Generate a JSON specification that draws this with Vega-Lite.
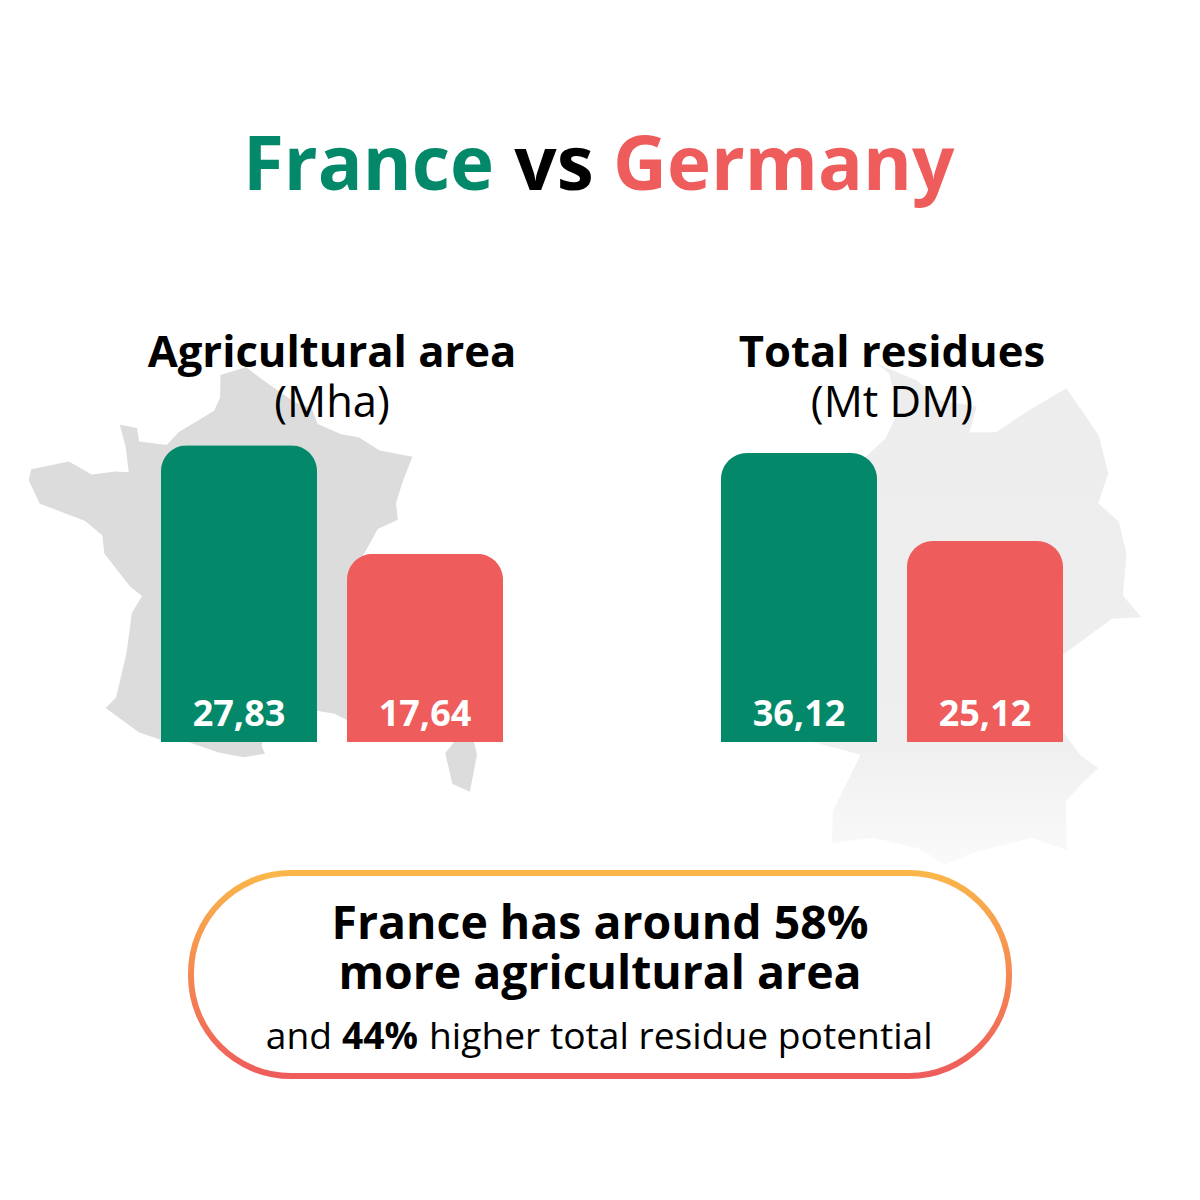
{
  "$schema": "https://vega.github.io/schema/vega-lite/v6.json",
  "width": 1200,
  "height": 1200,
  "autosize": {"type": "fit", "contains": "padding"},
  "padding": 0,
  "background": "#ffffff",
  "config": {"view": {"stroke": null}, "text": {"font": "Open Sans"}},
  "datasets": {
    "bars": [
      {"metric": "Agricultural area", "country": "France", "value": 27.83, "label": "27,83"},
      {"metric": "Agricultural area", "country": "Germany", "value": 17.64, "label": "17,64"},
      {"metric": "Total residues", "country": "France", "value": 36.12, "label": "36,12"},
      {"metric": "Total residues", "country": "Germany", "value": 25.12, "label": "25,12"}
    ],
    "headings": [
      {"metric": "Agricultural area", "line": "name", "text": "Agricultural area"},
      {"metric": "Agricultural area", "line": "unit", "text": "(Mha)"},
      {"metric": "Total residues", "line": "name", "text": "Total residues"},
      {"metric": "Total residues", "line": "unit", "text": "(Mt DM)"}
    ]
  },
  "layer": [
    {
      "data": {"values": [{"type": "Feature", "properties": {"name": "France"}, "geometry": {"type": "MultiPolygon", "coordinates": [
        [[[2.5,51.08],[3.2,50.75],[4.2,50.3],[4.8,50.15],[5.0,49.8],[5.8,49.55],[6.4,49.47],[7.1,49.15],[8.2,48.97],[7.8,48.4],[7.55,47.95],[7.58,47.58],[6.9,47.4],[6.45,46.9],[6.1,46.55],[6.15,46.3],[6.8,46.4],[7.0,45.9],[6.8,45.75],[7.1,45.3],[6.65,45.1],[7.05,44.7],[6.9,44.4],[7.65,44.15],[7.5,43.78],[7.0,43.55],[6.6,43.2],[5.9,43.05],[5.3,43.3],[4.6,43.4],[4.0,43.55],[3.2,43.2],[3.05,42.6],[3.15,42.43],[2.5,42.35],[1.75,42.45],[0.7,42.7],[0,42.7],[-0.7,42.85],[-1.75,43.35],[-1.45,43.6],[-1.2,44.6],[-1.1,45.5],[-0.8,45.9],[-1.2,46.1],[-2.1,46.8],[-2.2,47.2],[-2.8,47.5],[-4.35,47.8],[-4.8,48.3],[-4.75,48.55],[-3.5,48.8],[-2.7,48.55],[-1.9,48.65],[-1.45,48.65],[-1.6,49.2],[-1.85,49.7],[-1.25,49.65],[-1.15,49.35],[-0.2,49.3],[0.2,49.6],[1.4,50.1],[1.6,50.4],[1.6,50.9],[2.5,51.08]]],
        [[[9.4,43.0],[9.55,42.2],[9.25,41.4],[8.75,41.6],[8.6,42.3],[9.1,42.7],[9.4,43.0]]]
      ]}}]},
      "projection": {"type": "conicConformal", "rotate": [-3, 0], "parallels": [44, 49], "center": [0, 46.5], "scale": 2560, "translate": [260, 572]},
      "mark": {"type": "geoshape", "fill": "#dcdcdc", "stroke": null},
      "encoding": {}
    },
    {
      "data": {"values": [{"type": "Feature", "properties": {"name": "Germany"}, "geometry": {"type": "Polygon", "coordinates": [
        [[8.3,55.05],[9.4,54.8],[10.0,54.5],[11.0,54.4],[10.8,54.0],[11.5,54.0],[12.3,54.3],[13.4,54.65],[14.2,53.9],[14.4,53.3],[14.1,52.85],[14.6,52.55],[14.75,52.05],[14.6,51.4],[15.03,51.05],[14.3,51.05],[13.0,50.5],[12.1,50.25],[12.5,49.8],[13.4,48.95],[13.8,48.75],[13.45,48.55],[13.0,48.25],[13.0,47.5],[12.2,47.7],[10.9,47.5],[10.2,47.3],[9.6,47.55],[8.55,47.7],[7.6,47.6],[7.6,48.1],[8.2,48.98],[6.7,49.2],[6.35,49.5],[6.1,50.1],[6.3,50.5],[6.0,50.85],[5.95,51.1],[6.2,51.4],[6.0,51.85],[7.0,52.25],[7.05,53.0],[7.2,53.35],[8.1,53.6],[8.6,53.9],[8.9,54.3],[8.65,54.9],[8.3,55.05]]
      ]}}]},
      "projection": {"type": "conicConformal", "rotate": [-10.5, 0], "parallels": [48, 54], "center": [0, 51], "scale": 3700, "translate": [958, 626]},
      "mark": {
        "type": "geoshape",
        "stroke": null,
        "fill": {"gradient": "linear", "x1": 0, "y1": 0, "x2": 0, "y2": 1, "stops": [
          {"offset": 0, "color": "#ededed"},
          {"offset": 0.75, "color": "#efefef"},
          {"offset": 1, "color": "#fafafa"}
        ]}
      },
      "encoding": {}
    },
    {
      "data": {"values": [{"title": "France vs Germany"}]},
      "encoding": {
        "x": {"field": "title", "type": "nominal", "axis": null, "scale": {"type": "band", "range": [0, 1200], "padding": 0}},
        "y": {"field": "title", "type": "nominal", "axis": null, "scale": {"type": "band", "range": [0, 336], "padding": 0}}
      },
      "layer": [
        {"mark": {"type": "text", "text": "France", "fontSize": 74.5, "fontWeight": "bold", "align": "right", "baseline": "middle", "dx": -106, "color": "#03896a"}},
        {"mark": {"type": "text", "text": "vs", "fontSize": 74.5, "fontWeight": "bold", "align": "center", "baseline": "middle", "dx": -46, "color": "#000000"}},
        {"mark": {"type": "text", "text": "Germany", "fontSize": 74.5, "fontWeight": "bold", "align": "left", "baseline": "middle", "dx": 13, "color": "#ee5c5c"}}
      ]
    },
    {
      "data": {"name": "bars"},
      "transform": [{"filter": "datum.metric === 'Agricultural area'"}],
      "encoding": {
        "x": {"field": "country", "type": "nominal", "axis": null, "scale": {"type": "band", "domain": ["France", "Germany"], "range": [161, 503], "paddingInner": 0.1613, "paddingOuter": 0}},
        "color": {"field": "country", "type": "nominal", "legend": null, "scale": {"domain": ["France", "Germany"], "range": ["#03896a", "#ee5c5c"]}}
      },
      "layer": [
        {
          "mark": {"type": "bar", "cornerRadiusTopLeft": 26, "cornerRadiusTopRight": 26},
          "encoding": {"y": {"field": "value", "type": "quantitative", "axis": null, "scale": {"domain": [0, 30], "range": [742, 422]}}}
        },
        {
          "mark": {"type": "text", "fontSize": 36, "fontWeight": "bold", "baseline": "middle", "dy": -27},
          "encoding": {
            "y": {"datum": 0, "type": "quantitative", "axis": null, "scale": {"domain": [0, 30], "range": [742, 422]}},
            "text": {"field": "label"},
            "color": {"value": "#ffffff"}
          }
        }
      ]
    },
    {
      "data": {"name": "bars"},
      "transform": [{"filter": "datum.metric === 'Total residues'"}],
      "encoding": {
        "x": {"field": "country", "type": "nominal", "axis": null, "scale": {"type": "band", "domain": ["France", "Germany"], "range": [721, 1063], "paddingInner": 0.1613, "paddingOuter": 0}},
        "color": {"field": "country", "type": "nominal", "legend": null, "scale": {"domain": ["France", "Germany"], "range": ["#03896a", "#ee5c5c"]}}
      },
      "layer": [
        {
          "mark": {"type": "bar", "cornerRadiusTopLeft": 26, "cornerRadiusTopRight": 26},
          "encoding": {"y": {"field": "value", "type": "quantitative", "axis": null, "scale": {"domain": [0, 40], "range": [742, 422]}}}
        },
        {
          "mark": {"type": "text", "fontSize": 36, "fontWeight": "bold", "baseline": "middle", "dy": -27},
          "encoding": {
            "y": {"datum": 0, "type": "quantitative", "axis": null, "scale": {"domain": [0, 40], "range": [742, 422]}},
            "text": {"field": "label"},
            "color": {"value": "#ffffff"}
          }
        }
      ]
    },
    {
      "data": {"name": "headings"},
      "encoding": {
        "x": {"field": "metric", "type": "nominal", "axis": null, "scale": {"type": "point", "domain": ["Agricultural area", "Total residues"], "range": [332, 892], "padding": 0}},
        "y": {"field": "line", "type": "nominal", "axis": null, "scale": {"type": "point", "domain": ["name", "unit"], "range": [354, 404], "padding": 0}},
        "text": {"field": "text"}
      },
      "layer": [
        {"transform": [{"filter": "datum.line === 'name'"}], "mark": {"type": "text", "fontSize": 43.6, "fontWeight": "bold", "baseline": "middle", "color": "#000000"}},
        {"transform": [{"filter": "datum.line === 'unit'"}], "mark": {"type": "text", "fontSize": 43.5, "baseline": "middle", "color": "#000000"}}
      ]
    },
    {
      "data": {"values": [{"box": "summary"}]},
      "encoding": {
        "x": {"field": "box", "type": "nominal", "axis": null, "scale": {"type": "band", "range": [191, 1009], "padding": 0}},
        "y": {"field": "box", "type": "nominal", "axis": null, "scale": {"type": "band", "range": [873, 1076], "padding": 0}}
      },
      "layer": [
        {
          "mark": {
            "type": "rect",
            "cornerRadius": 100,
            "fill": "#ffffff",
            "strokeWidth": 6,
            "stroke": {"gradient": "linear", "x1": 0, "y1": 0, "x2": 0, "y2": 1, "stops": [
              {"offset": 0, "color": "#fbb64a"},
              {"offset": 1, "color": "#ee5c5c"}
            ]}
          }
        },
        {"mark": {"type": "text", "text": "France has around 58%", "fontSize": 46.4, "fontWeight": "bold", "baseline": "middle", "dy": -50, "color": "#000000"}},
        {"mark": {"type": "text", "text": "more agricultural area", "fontSize": 46.4, "fontWeight": "bold", "baseline": "middle", "dy": 0, "color": "#000000"}},
        {"mark": {"type": "text", "text": "and", "fontSize": 37.2, "align": "right", "baseline": "middle", "dx": -268, "dy": 63, "color": "#000000"}},
        {"mark": {"type": "text", "text": "44%", "fontSize": 37.2, "fontWeight": "bold", "align": "center", "baseline": "middle", "dx": -220, "dy": 63, "color": "#000000"}},
        {"mark": {"type": "text", "text": "higher total residue potential", "fontSize": 37.2, "align": "left", "baseline": "middle", "dx": -171, "dy": 63, "color": "#000000"}}
      ]
    }
  ],
  "resolve": {"scale": {"x": "independent", "y": "independent", "color": "independent"}}
}
